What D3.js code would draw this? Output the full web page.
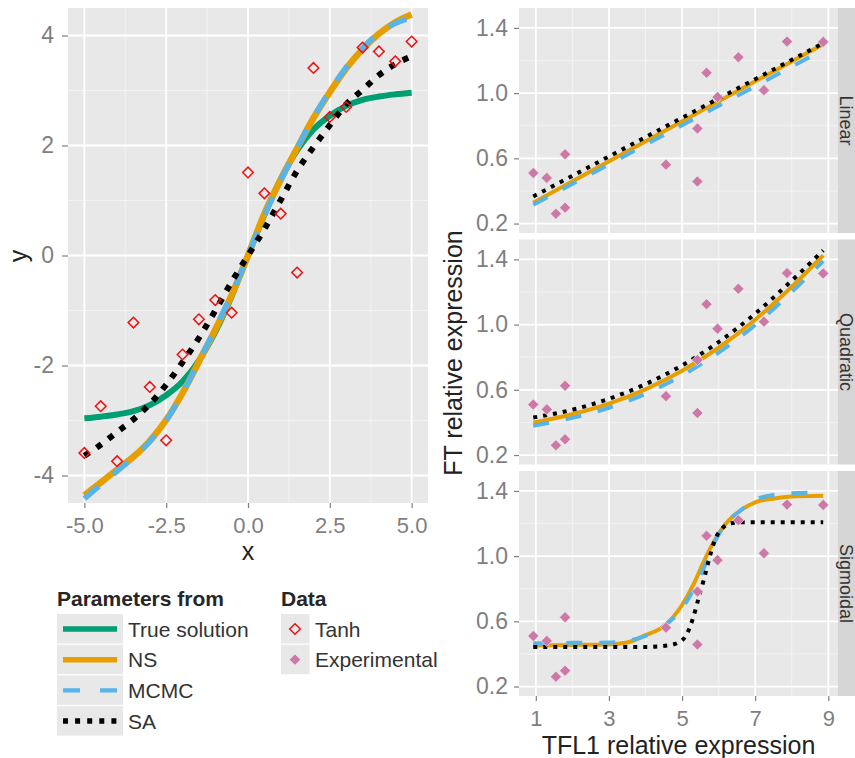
<!DOCTYPE html>
<html>
<head>
<meta charset="utf-8">
<script src="https://cdn.jsdelivr.net/npm/d3@7"></script>
<style>
  body { margin: 0; background: #fff; }
  svg text { font-family: "Liberation Sans", Arial, sans-serif; }
</style>
</head>
<body>
<div id="chart"></div>
<script>
// ---- left panel: tanh data and fitted curves ----
var tanhX = [-5, -4.5, -4, -3.5, -3, -2.5, -2, -1.5, -1, -0.5, 0, 0.5, 1, 1.5, 2, 2.5, 3, 3.5, 4, 4.5, 5]
var tanhY = [-3.59, -2.74, -3.74, -1.22, -2.39, -3.36, -1.80, -1.16, -0.81, -1.04, 1.51, 1.13, 0.76, -0.31, 3.41, 2.52, 2.70, 3.78, 3.71, 3.53, 3.89]

var curveX = [-5, -4.5, -4, -3.5, -3, -2.5, -2, -1.5, -1, -0.5, 0, 0.5, 1, 1.5, 2, 2.5, 3, 3.5, 4, 4.5, 5]
var trueY = [-2.96, -2.93, -2.89, -2.83, -2.72, -2.54, -2.29, -1.91, -1.39, -0.74, 0, 0.74, 1.39, 1.91, 2.29, 2.54, 2.72, 2.83, 2.89, 2.93, 2.96]
var nsY = [-4.36, -4.13, -3.89, -3.66, -3.37, -2.99, -2.50, -1.93, -1.35, -0.72, 0, 0.76, 1.38, 1.95, 2.50, 2.97, 3.40, 3.75, 4.03, 4.24, 4.38]
var mcmcY = [-4.42, -4.17, -3.92, -3.67, -3.38, -3.00, -2.50, -1.92, -1.33, -0.70, 0, 0.72, 1.36, 1.95, 2.51, 2.99, 3.42, 3.77, 4.04, 4.22, 4.33]
var saY = [-3.64, -3.44, -3.21, -2.98, -2.70, -2.35, -1.94, -1.50, -1.00, -0.48, 0, 0.48, 1.01, 1.54, 1.97, 2.37, 2.75, 3.01, 3.28, 3.48, 3.62]

// ---- right panels: experimental data ----
var expX = [0.93, 1.30, 1.55, 1.80, 1.80, 4.56, 5.42, 5.42, 5.67, 5.97, 6.54, 7.24, 7.87, 8.86]
var expY = [0.51, 0.48, 0.26, 0.625, 0.297, 0.561, 0.783, 0.458, 1.125, 0.975, 1.22, 1.018, 1.316, 1.314]

// Linear fits
var linX = [0.93, 8.86]
var linNS = [0.327, 1.30]
var linMCMC = [0.315, 1.265]
var linSA = [0.366, 1.306]

// Quadratic fits
var quadX = [0.93, 2, 3, 4, 5, 6, 7, 8, 8.86]
var quadNS = [0.399, 0.450, 0.515, 0.603, 0.717, 0.858, 1.030, 1.232, 1.425]
var quadMCMC = [0.380, 0.428, 0.490, 0.576, 0.688, 0.828, 0.998, 1.200, 1.390]
var quadSA = [0.430, 0.478, 0.545, 0.635, 0.750, 0.893, 1.067, 1.270, 1.455]

// Sigmoidal fits
var sigX = [0.93, 2, 3, 3.5, 4, 4.5, 5, 5.3, 5.6, 5.9, 6.2, 6.6, 7, 7.5, 8, 8.86]
var sigNS = [0.452, 0.455, 0.458, 0.470, 0.515, 0.570, 0.700, 0.820, 0.970, 1.100, 1.200, 1.280, 1.330, 1.352, 1.365, 1.370]
var sigMCMC = [0.465, 0.468, 0.470, 0.480, 0.510, 0.570, 0.680, 0.790, 0.930, 1.090, 1.200, 1.280, 1.345, 1.375, 1.385, 1.390]
var sigSAX = [0.93, 3, 4, 4.6, 4.9, 5.1, 5.3, 5.45, 5.6, 5.75, 5.9, 6.1, 6.3, 6.6, 8.86]
var sigSA = [0.442, 0.442, 0.443, 0.452, 0.470, 0.510, 0.620, 0.740, 0.860, 0.990, 1.100, 1.170, 1.200, 1.207, 1.207]

// ---- ticks and labels ----
var xTicksL = [-5, -2.5, 0, 2.5, 5]
var xMinorL = [-3.75, -1.25, 1.25, 3.75]
var yTicksL = [-4, -2, 0, 2, 4]
var yMinorL = [-3, -1, 1, 3]
var xTicksR = [1, 3, 5, 7, 9]
var xMinorR = [2, 4, 6, 8]
var yTicksR = [0.2, 0.6, 1.0, 1.4]
var yMinorR = [0.4, 0.8, 1.2]
var facets = ["Linear", "Quadratic", "Sigmoidal"]
var paramLabels = ["True solution", "NS", "MCMC", "SA"]
var dataLabels = ["Tanh", "Experimental"]

var width = 855, height = 758
var bg = '#E8E8E8'
var tickGrey = '#7F7F7F'

var svg = d3.select("#chart")
  .append("svg")
  .attr("width", width)
  .attr("height", height)

svg.append("rect").attr("width", width).attr("height", height).attr("fill", "white")

// line styles, keyed by legend label
var styles = {
  "True solution": { color: '#009E73', wL: 6, wR: 4, dashL: null, dashR: null },
  "NS": { color: '#E69F00', wL: 6.5, wR: 4, dashL: null, dashR: null },
  "MCMC": { color: '#56B4E9', wL: 5.5, wR: 4, dashL: '19,19', dashR: '16,17' },
  "SA": { color: '#000000', wL: 6, wR: 4, dashL: '6,8.7', dashR: '4,6' }
}

// plain hyphen for negatives, like the original
var fmt = f => (d => d3.format(f)(d).replace('\u2212', '-'))

function diamond(r) {
  return `M0,${-r}L${r},0L0,${r}L${-r},0Z`
}

function zip(xs, ys) {
  return xs.map((d, i) => [d, ys[i]])
}

// background + grid for a panel
function drawPanel(g, x, y, xMaj, xMin, yMaj, yMin) {
  var x0 = x.range()[0], x1 = x.range()[1]
  var y0 = y.range()[1], y1 = y.range()[0]
  g.append("rect")
    .attr("x", x0).attr("y", y0)
    .attr("width", x1 - x0).attr("height", y1 - y0)
    .attr("fill", bg)
  g.selectAll(".xmin").data(xMin).enter().append("line")
    .attr("x1", d => x(d)).attr("x2", d => x(d))
    .attr("y1", y0).attr("y2", y1)
    .attr("stroke", '#F3F3F3').attr("stroke-width", 1)
  g.selectAll(".ymin").data(yMin).enter().append("line")
    .attr("y1", d => y(d)).attr("y2", d => y(d))
    .attr("x1", x0).attr("x2", x1)
    .attr("stroke", '#F3F3F3').attr("stroke-width", 1)
  g.selectAll(".xmaj").data(xMaj).enter().append("line")
    .attr("x1", d => x(d)).attr("x2", d => x(d))
    .attr("y1", y0).attr("y2", y1)
    .attr("stroke", 'white').attr("stroke-width", 1.8)
  g.selectAll(".ymaj").data(yMaj).enter().append("line")
    .attr("y1", d => y(d)).attr("y2", d => y(d))
    .attr("x1", x0).attr("x2", x1)
    .attr("stroke", 'white').attr("stroke-width", 1.8)
}

function styleAxis(g, size) {
  g.select(".domain").remove()
  g.selectAll("line").attr("stroke", tickGrey).attr("stroke-width", 1.2)
  g.selectAll("text")
    .attr("font-size", size + "px")
    .attr("fill", tickGrey)
    .attr("font-family", '"Liberation Sans", Arial, sans-serif')
}

function drawLine(g, pts, x, y, st, side) {
  g.append("path")
    .datum(pts)
    .attr("fill", "none")
    .attr("stroke", st.color)
    .attr("stroke-width", side == 'L' ? st.wL : st.wR)
    .attr("stroke-dasharray", side == 'L' ? st.dashL : st.dashR)
    .attr("d", d3.line()
      .x(d => x(d[0]))
      .y(d => y(d[1]))
      .curve(d3.curveMonotoneX))
}

// ================= LEFT PANEL =================
var xL = d3.scaleLinear().domain([-5.5, 5.5]).range([68, 428])
var yL = d3.scaleLinear().domain([-4.5, 4.5]).range([503, 8])

var gL = svg.append("g")
drawPanel(gL, xL, yL, xTicksL, xMinorL, yTicksL, yMinorL)

drawLine(gL, zip(curveX, trueY), xL, yL, styles["True solution"], 'L')
drawLine(gL, zip(curveX, nsY), xL, yL, styles["NS"], 'L')
drawLine(gL, zip(curveX, mcmcY), xL, yL, styles["MCMC"], 'L')
drawLine(gL, zip(curveX, saY), xL, yL, styles["SA"], 'L')

gL.selectAll(".tanh")
  .data(zip(tanhX, tanhY))
  .enter()
  .append("path")
  .attr("d", diamond(5.3))
  .attr("transform", d => `translate(${xL(d[0])},${yL(d[1])})`)
  .attr("fill", "none")
  .attr("stroke", '#F01010')
  .attr("stroke-width", 1.5)

svg.append("g")
  .attr("transform", `translate(68,0)`)
  .call(d3.axisLeft(yL).tickValues(yTicksL).tickSize(6).tickPadding(8).tickFormat(fmt("d")))
  .call(styleAxis, 23)

svg.append("g")
  .attr("transform", `translate(0,503)`)
  .call(d3.axisBottom(xL).tickValues(xTicksL).tickSize(5).tickPadding(9).tickFormat(fmt(".1f")))
  .call(styleAxis, 22)

svg.append("text")
  .attr("x", 248).attr("y", 560)
  .attr("text-anchor", "middle")
  .style("font-size", "25px")
  .style("fill", '#222')
  .text("x")

svg.append("text")
  .attr("transform", `translate(27,256) rotate(-90)`)
  .attr("text-anchor", "middle")
  .style("font-size", "25px")
  .style("fill", '#222')
  .text("y")

// ================= RIGHT PANELS =================
var xR = d3.scaleLinear().domain([0.54, 9.265]).range([519, 838])
var panelTops = [8, 239.5, 471]
var panelH = 225

var fits = [
  [zip(linX, linNS), zip(linX, linMCMC), zip(linX, linSA)],
  [zip(quadX, quadNS), zip(quadX, quadMCMC), zip(quadX, quadSA)],
  [zip(sigX, sigNS), zip(sigX, sigMCMC), zip(sigSAX, sigSA)]
]

facets.forEach((name, i) => {
  var top = panelTops[i]
  var yR = d3.scaleLinear().domain([0.142, 1.522]).range([top + panelH, top])
  var g = svg.append("g")
  drawPanel(g, xR, yR, xTicksR, xMinorR, yTicksR, yMinorR)

  drawLine(g, fits[i][0], xR, yR, styles["NS"], 'R')
  drawLine(g, fits[i][1], xR, yR, styles["MCMC"], 'R')
  drawLine(g, fits[i][2], xR, yR, styles["SA"], 'R')

  g.selectAll(".exp")
    .data(zip(expX, expY))
    .enter()
    .append("path")
    .attr("d", diamond(5.6))
    .attr("transform", d => `translate(${xR(d[0])},${yR(d[1])})`)
    .attr("fill", '#CC79A7')
    .attr("stroke", '#F2E6EE')
    .attr("stroke-width", 0.7)

  svg.append("g")
    .attr("transform", `translate(519,0)`)
    .call(d3.axisLeft(yR).tickValues(yTicksR).tickSize(5).tickPadding(6).tickFormat(fmt(".1f")))
    .call(styleAxis, 23)

  // facet strip (text squeezed into the narrow strip at the page edge)
  svg.append("rect")
    .attr("x", 838).attr("y", top)
    .attr("width", 24).attr("height", panelH)
    .attr("fill", '#D5D5D5')
  svg.append("text")
    .attr("transform", `translate(840,${top + panelH / 2}) rotate(90)`)
    .attr("text-anchor", "middle")
    .style("font-size", "18px")
    .style("fill", '#333')
    .text(name)
})

svg.append("g")
  .attr("transform", `translate(0,${panelTops[2] + panelH})`)
  .call(d3.axisBottom(xR).tickValues(xTicksR).tickSize(5).tickPadding(9).tickFormat(fmt("d")))
  .call(styleAxis, 22)

svg.append("text")
  .attr("x", 678.5).attr("y", 753.5)
  .attr("text-anchor", "middle")
  .style("font-size", "25px")
  .style("fill", '#222')
  .text("TFL1 relative expression")

svg.append("text")
  .attr("transform", `translate(462,353) rotate(-90)`)
  .attr("text-anchor", "middle")
  .style("font-size", "25px")
  .style("fill", '#222')
  .text("FT relative expression")

// ================= LEGENDS =================
var legTop = 614, rowH = 30.7

svg.append("text")
  .attr("x", 57).attr("y", 606)
  .style("font-size", "21px").style("font-weight", "bold").style("fill", '#262626')
  .text("Parameters from")

paramLabels.forEach((lab, i) => {
  var cy = legTop + i * rowH + 15
  var st = styles[lab]
  svg.append("rect")
    .attr("x", 57).attr("y", legTop + i * rowH)
    .attr("width", 66).attr("height", 29.5)
    .attr("fill", bg)
  svg.append("line")
    .attr("x1", 63).attr("x2", 117)
    .attr("y1", cy).attr("y2", cy)
    .attr("stroke", st.color)
    .attr("stroke-width", lab == "MCMC" ? 4.3 : 5.5)
    .attr("stroke-dasharray", lab == "MCMC" ? '17,20' : (lab == "SA" ? '5,7.1' : null))
  svg.append("text")
    .attr("x", 128).attr("y", cy + 7.5)
    .style("font-size", "21px").style("fill", '#333')
    .text(lab)
})

svg.append("text")
  .attr("x", 281).attr("y", 606)
  .style("font-size", "21px").style("font-weight", "bold").style("fill", '#262626')
  .text("Data")

dataLabels.forEach((lab, i) => {
  var cy = legTop + i * rowH + 15
  svg.append("rect")
    .attr("x", 281).attr("y", legTop + i * rowH)
    .attr("width", 28.5).attr("height", 29.5)
    .attr("fill", bg)
  svg.append("path")
    .attr("d", diamond(i == 0 ? 5.3 : 5.6))
    .attr("transform", `translate(295,${cy})`)
    .attr("fill", i == 0 ? 'none' : '#CC79A7')
    .attr("stroke", i == 0 ? '#F01010' : '#F2E6EE')
    .attr("stroke-width", i == 0 ? 1.5 : 0.7)
  svg.append("text")
    .attr("x", 315).attr("y", cy + 7.5)
    .style("font-size", "21px").style("fill", '#333')
    .text(lab)
})
</script>
</body>
</html>
